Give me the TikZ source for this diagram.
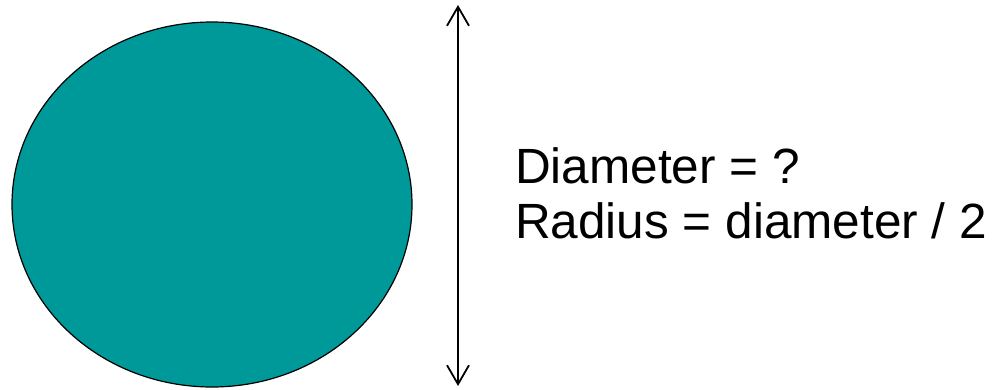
\documentclass[tikz,border=0pt]{standalone}
\usepackage{fontspec}
\setmainfont{Liberation Sans}
\usetikzlibrary{shapes.geometric,arrows.meta}
\definecolor{tealfill}{HTML}{009999}
\tikzset{
  disc/.style={ellipse, draw=black, line width=1.2pt, fill=tealfill, inner sep=0pt},
  dimarrow/.style={line width=1.8pt, {Straight Barb[length=19pt,width=22pt]}-{Straight Barb[length=19pt,width=22pt]}},
  label/.style={anchor=base west, inner sep=0pt, font=\fontsize{49.5}{56}\selectfont}
}
\begin{document}
\begin{tikzpicture}[x=1pt,y=-1pt]
  \useasboundingbox (0,0) rectangle (995,389);
  \node[disc, minimum width=400pt, minimum height=365pt] (circ) at (212,204.5) {};
  \coordinate (atop) at (458,5);
  \coordinate (abot) at (458,386);
  \draw[dimarrow] (atop) -- (abot);
  \node[label] (diam) at (515,183) {Diameter = ?};
  \node[label] (rad) at (515,238) {Radius = diameter / 2};
\end{tikzpicture}
\end{document}
